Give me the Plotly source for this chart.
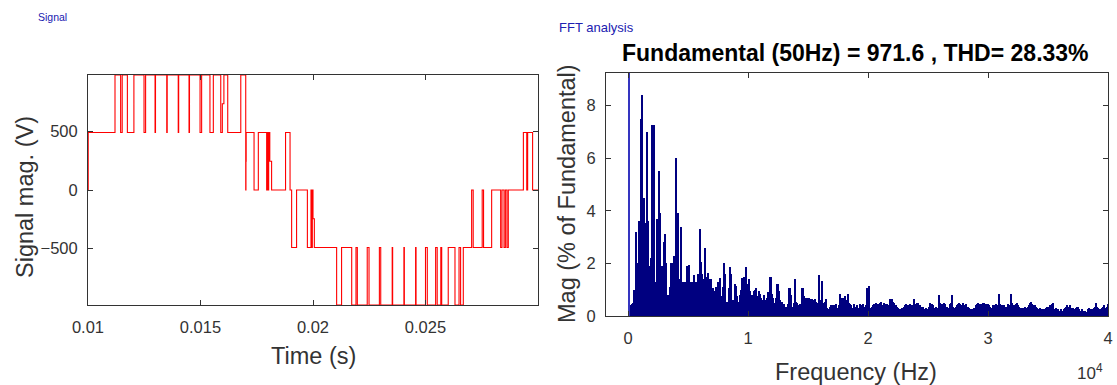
import plotly.graph_objects as go

# ---------------- Signal (left) ----------------
sig_t = [0.01000, 0.01001, 0.01120, 0.01145, 0.01152, 0.01175, 0.01204, 0.01249, 0.01256,
         0.01298, 0.01300, 0.01350, 0.01352, 0.01401, 0.01403, 0.01449, 0.01451, 0.01498,
         0.01505, 0.01542, 0.01557, 0.01590, 0.01597, 0.01604, 0.01621, 0.01679, 0.01701,
         0.01702, 0.01703, 0.01738, 0.01757, 0.01794, 0.01797, 0.01800, 0.01803, 0.01808,
         0.01816, 0.01878, 0.01898, 0.01905, 0.01927, 0.01975, 0.01991, 0.01994, 0.01997,
         0.02000, 0.02006, 0.02105, 0.02127, 0.02172, 0.02191, 0.02197, 0.02241, 0.02249,
         0.02295, 0.02301, 0.02352, 0.02354, 0.02404, 0.02406, 0.02456, 0.02458, 0.02500,
         0.02508, 0.02545, 0.02552, 0.02568, 0.02572, 0.02601, 0.02631, 0.02649, 0.02656,
         0.02668, 0.02705, 0.02712, 0.02752, 0.02758, 0.02794, 0.02834, 0.02840, 0.02849,
         0.02855, 0.02862, 0.02868, 0.02935, 0.02950, 0.02954, 0.02976, 0.03000]
sig_v = [0, 490, 980, 490, 980, 490, 980, 490, 980,
         490, 980, 490, 980, 490, 980, 490, 980, 490,
         980, 490, 980, 490, 735, 980, 490, 980, 0,
         245, 490, 0, 490, 0, 490, 0, 490, 245,
         0, 490, 0, -490, 0, -490, 0, -490, 0,
         -245, -490, -980, -490, -980, -490, -980, -490, -980,
         -490, -980, -490, -980, -490, -980, -490, -980, -490,
         -980, -490, -980, -490, -980, -490, -980, -490, -980,
         -490, 0, -490, 0, -490, 0, -490, 0, -490,
         0, -490, 0, 490, 0, 490, 0, 0]

sig_xticks = [0.01, 0.015, 0.02, 0.025]
sig_xticklabels = ["0.01", "0.015", "0.02", "0.025"]
sig_yticks = [-500, 0, 500]

# ---------------- FFT (right) ----------------
fund_freq = 50
fund_mag = 100.0
harm_step_hz = 100
harm_mag = [
    0.4, 0.4, 0.45, 0.5, 1.0, 1.0, 3.2, 2.0, 3.6, 3.6,
    7.5, 8.4, 4.5, 3.55, 3.55, 7.0, 3.6, 1.9, 2.2, 7.25,
    7.25, 7.25, 1.3, 3.7, 3.7, 5.5, 3.9, 1.9, 1.9, 2.8,
    3.1, 2.0, 0.8, 0.8, 1.1, 2.0, 2.0, 2.3, 0.6, 6.0,
    3.9, 3.9, 1.4, 3.4, 1.3, 1.3, 1.3, 1.3, 1.9, 1.8,
    1.95, 1.3, 1.3, 1.25, 1.55, 1.3, 1.3, 1.6, 1.25, 3.3,
    2.05, 1.6, 1.4, 2.6, 1.5, 1.5, 1.65, 1.4, 1.4, 1.05,
    1.05, 0.95, 1.1, 1.1, 1.3, 1.3, 1.45, 0.75, 1.1, 2.0,
    1.6, 0.55, 0.55, 1.05, 1.85, 1.6, 0.6, 0.6, 1.2, 1.15,
    0.75, 0.55, 0.8, 1.0, 1.45, 1.05, 1.5, 1.85, 1.2, 1.2,
    1.4, 0.95, 0.8, 0.6, 0.95, 1.0, 1.05, 0.75, 0.95, 0.85,
    0.7, 0.6, 0.8, 0.6, 0.45, 0.7, 0.9, 1.5, 1.5, 0.85,
    0.7, 0.5, 0.7, 1.2, 1.2, 0.95, 0.6, 0.55, 0.45, 0.45,
    0.3, 0.35, 0.45, 1.05, 1.05, 0.8, 0.35, 0.5, 1.4, 0.55,
    0.5, 0.4, 0.45, 0.4, 1.05, 1.05, 0.75, 0.7, 0.7, 0.7,
    0.7, 0.65, 0.65, 0.55, 0.6, 0.65, 0.55, 0.5, 1.55, 0.6,
    0.6, 1.35, 0.5, 0.55, 0.65, 0.3, 0.25, 0.35, 0.4, 0.4,
    0.35, 0.4, 0.45, 0.3, 0.3, 0.4, 0.85, 0.7, 0.7, 0.7,
    0.75, 0.6, 0.85, 0.5, 0.45, 0.4, 0.3, 0.45, 0.35, 0.35,
    0.4, 0.3, 0.45, 0.4, 0.3, 0.45, 0.35, 0.4, 1.05, 0.4,
    1.15, 0.3, 0.35, 0.4, 0.45, 0.4, 0.5, 0.45, 0.4, 0.5,
    0.55, 0.4, 0.5, 0.45, 0.4, 0.45, 0.4, 0.65, 0.35, 0.65,
    0.55, 0.5, 0.4, 0.35, 0.3, 0.25, 0.25, 0.3, 0.3, 0.35,
    0.4, 0.45, 0.4, 0.4, 0.45, 0.35, 0.4, 0.65, 0.45, 0.45,
    0.5, 0.5, 0.4, 0.35, 0.3, 0.35, 0.25, 0.3, 0.25, 0.15,
    0.35, 0.5, 0.45, 0.4, 0.3, 0.25, 0.35, 0.3, 0.8, 0.5,
    0.4, 0.45, 0.5, 0.45, 0.35, 0.35, 0.3, 0.45, 0.5, 0.8,
    0.35, 0.3, 0.35, 0.4, 0.45, 0.5, 0.45, 0.4, 0.5, 0.35,
    0.4, 0.45, 0.35, 0.3, 0.25, 0.15, 0.25, 0.3, 0.3, 0.4,
    0.45, 0.5, 0.45, 0.45, 0.45, 0.5, 0.5, 0.45, 0.4, 0.45,
    0.4, 0.35, 0.3, 0.4, 0.35, 0.4, 0.45, 0.4, 0.85, 0.45,
    0.35, 0.4, 0.4, 0.3, 0.35, 0.3, 0.45, 0.4, 0.85, 0.5,
    0.4, 0.4, 0.45, 0.5, 0.4, 0.35, 0.3, 0.3, 0.25, 0.3,
    0.35, 0.3, 0.35, 0.4, 0.5, 0.55, 0.45, 0.4, 0.4, 0.35,
    0.3, 0.25, 0.3, 0.25, 0.25, 0.2, 0.25, 0.3, 0.35, 0.3,
    0.35, 0.4, 0.45, 0.5, 0.15, 0.25, 0.3, 0.25, 0.2, 0.2,
    0.25, 0.2, 0.25, 0.3, 0.35, 0.4, 0.35, 0.4, 0.3, 0.25,
    0.3, 0.25, 0.3, 0.35, 0.35, 0.25, 0.2, 0.25, 0.2, 0.15,
    0.2, 0.15, 0.25, 0.3, 0.25, 0.2, 0.25, 0.3, 0.35, 0.5,
    0.35, 0.3, 0.25, 0.25, 0.3, 0.35, 0.4, 0.3, 0.35, 0.45,
]
harm_freq = [harm_step_hz * (i + 1) for i in range(len(harm_mag))]

fft_xticks = [0, 10000, 20000, 30000, 40000]
fft_xticklabels = ["0", "1", "2", "3", "4"]
fft_yticks = [0, 2, 4, 6, 8]

title_text = "Fundamental (50Hz) = 971.6 , THD= 28.33%"

W, H = 1117, 385
FONT = "Liberation Sans, Arial, sans-serif"
AX = "#333333"


def px_x(a, b):
    return [a / W, b / W]


def px_y(top, bottom):
    return [(H - bottom) / H, (H - top) / H]


fig = go.Figure()
fig.add_trace(go.Scatter(x=sig_t, y=sig_v, mode="lines", line=dict(color="#ff0000", width=1.1, shape="hv"),
                         xaxis="x", yaxis="y", showlegend=False, hoverinfo="skip"))
fig.add_trace(go.Bar(x=harm_freq, y=harm_mag, width=[harm_step_hz] * len(harm_mag),
                     marker=dict(color="#000080", line=dict(width=0)),
                     xaxis="x2", yaxis="y2", showlegend=False, hoverinfo="skip"))
fig.add_trace(go.Bar(x=[fund_freq], y=[fund_mag], width=[70],
                     marker=dict(color="#3535c0", line=dict(width=0)),
                     xaxis="x2", yaxis="y2", showlegend=False, hoverinfo="skip"))

axis_common = dict(showline=True, linecolor=AX, linewidth=1, mirror="allticks", ticks="inside",
                   ticklen=5, tickcolor=AX, showgrid=False, zeroline=False, automargin=False,
                   tickfont=dict(family=FONT, size=16.5, color="#333333"))

fig.update_layout(
    width=W, height=H, margin=dict(l=0, r=0, t=0, b=0, autoexpand=False),
    paper_bgcolor="white", plot_bgcolor="white", bargap=0, barmode="overlay",
    xaxis=dict(domain=px_x(88, 538), range=[0.01, 0.03], tickvals=sig_xticks, ticktext=sig_xticklabels,
               anchor="y", ticklabelstandoff=7, **axis_common),
    yaxis=dict(domain=px_y(75, 305), range=[-980, 980], tickvals=sig_yticks, anchor="x",
               ticklabelstandoff=6, **axis_common),
    xaxis2=dict(domain=px_x(606, 1108), range=[-1850, 40000], tickvals=fft_xticks, ticktext=fft_xticklabels,
                anchor="y2", ticklabelstandoff=7, **axis_common),
    yaxis2=dict(domain=px_y(73, 316), range=[0, 9.24], tickvals=fft_yticks, anchor="x2",
                ticklabelstandoff=6, **axis_common),
)

LBL = dict(family=FONT, size=23.5, color="#333333")
ann = []
ann.append(dict(text="Signal", x=36 / W, y=1 - 17 / H, xref="paper", yref="paper", xanchor="left", yanchor="middle",
                showarrow=False, font=dict(family=FONT, size=10.5, color="#2020b0")))
ann.append(dict(text="FFT analysis", x=557 / W, y=1 - 27 / H, xref="paper", yref="paper", xanchor="left",
                yanchor="middle", showarrow=False, font=dict(family=FONT, size=13, color="#2020b0")))
ann.append(dict(text="<b>" + title_text + "</b>", x=855 / W, y=1 - 53 / H, xref="paper", yref="paper",
                xanchor="center", yanchor="middle", showarrow=False, font=dict(family=FONT, size=23, color="black")))
ann.append(dict(text="Time (s)", x=313 / W, y=1 - 356 / H, xref="paper", yref="paper", xanchor="center",
                yanchor="middle", showarrow=False, font=LBL))
ann.append(dict(text="Signal mag. (V)", x=25 / W, y=1 - 197 / H, xref="paper", yref="paper", xanchor="center",
                yanchor="middle", textangle=-90, showarrow=False, font=LBL))
ann.append(dict(text="Frequency (Hz)", x=856 / W, y=1 - 372 / H, xref="paper", yref="paper", xanchor="center",
                yanchor="middle", showarrow=False, font=LBL))
ann.append(dict(text="Mag (% of Fundamental)", x=567 / W, y=1 - 194 / H, xref="paper", yref="paper",
                xanchor="center", yanchor="middle", textangle=-90, showarrow=False, font=LBL))
ann.append(dict(text="10<sup>4</sup>", x=1090 / W, y=1 - 372 / H, xref="paper", yref="paper", xanchor="center",
                yanchor="middle", showarrow=False, font=dict(family=FONT, size=17, color="#333333")))
fig.update_layout(annotations=ann)

fig.write_html("out.html")
